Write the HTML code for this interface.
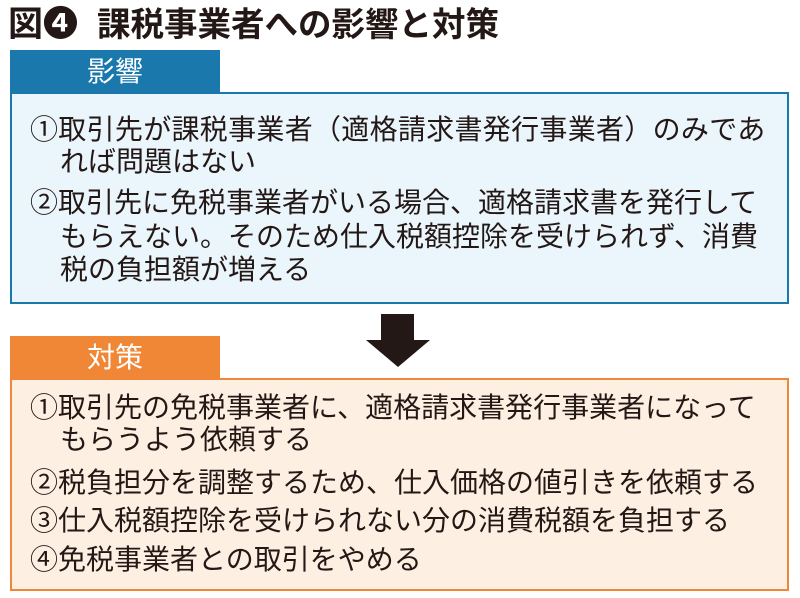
<!DOCTYPE html>
<html><head><meta charset="utf-8"><style>
body{margin:0;width:800px;height:598px;background:#fff;position:relative;overflow:hidden;font-family:"Liberation Sans","Noto Sans CJK JP",sans-serif;}
.a{position:absolute;white-space:nowrap;}
.t{font-size:28px;color:#231815;line-height:32px;}
</style></head><body>
<div class="a" style="left:8px;top:4px;font-size:35px;font-weight:bold;color:#231815;line-height:42px;">図❹</div>
<div class="a" style="left:97px;top:5px;font-size:33.5px;font-weight:bold;color:#231815;line-height:42px;">課税事業者への影響と対策</div>

<div class="a" style="left:10px;top:50px;width:210px;height:43px;background:#1a78ad;color:#fff;font-size:28px;line-height:43px;text-align:center;">影響</div>
<div class="a" style="left:10px;top:92px;width:775px;height:208px;background:#eaf5fc;border:2.5px solid #1a78ad;"></div>
<div class="a t" style="left:30px;top:114px;letter-spacing:0.3px;">①取引先が課税事業者（適格請求書発行事業者）のみであ</div>
<div class="a t" style="left:60px;top:146px;">れば問題はない</div>
<div class="a t" style="left:30px;top:187px;">②取引先に免税事業者がいる場合、適格請求書を発行して</div>
<div class="a t" style="left:60px;top:221px;">もらえない。そのため仕入税額控除を受けられず、消費</div>
<div class="a t" style="left:60px;top:254px;">税の負担額が増える</div>

<svg class="a" style="left:0;top:0" width="800" height="598"><polygon points="381,314 414,314 414,340 430,340 398,367 366,340 381,340" fill="#231815"/></svg>

<div class="a" style="left:10px;top:336px;width:210px;height:43px;background:#ef8737;color:#fff;font-size:28px;line-height:43px;text-align:center;">対策</div>
<div class="a" style="left:10px;top:378px;width:775px;height:209px;background:#fdf0e2;border:2.5px solid #ef8737;"></div>
<div class="a t" style="left:30px;top:392px;">①取引先の免税事業者に、適格請求書発行事業者になって</div>
<div class="a t" style="left:60px;top:424px;">もらうよう依頼する</div>
<div class="a t" style="left:30px;top:467px;">②税負担分を調整するため、仕入価格の値引きを依頼する</div>
<div class="a t" style="left:30px;top:505px;">③仕入税額控除を受けられない分の消費税額を負担する</div>
<div class="a t" style="left:30px;top:544px;">④免税事業者との取引をやめる</div>
</body></html>
